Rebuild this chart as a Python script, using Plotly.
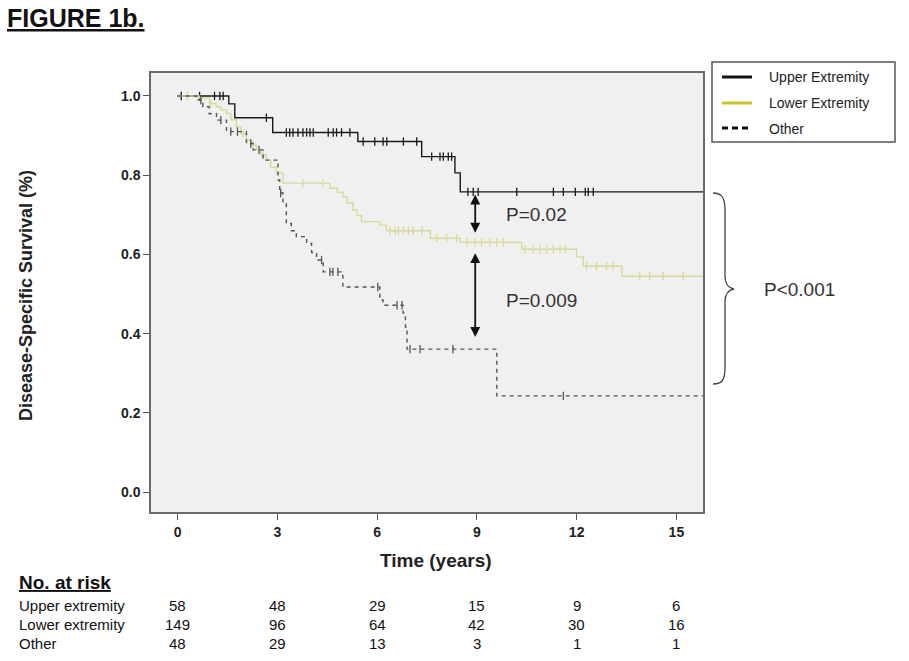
import numpy as np
import plotly.graph_objects as go

# ---------------- data ----------------
upper_t = [0, 1.54, 1.72, 2.86, 5.42, 7.34, 8.34, 8.5, 15.8]
upper_s = [1.0, 0.98, 0.945, 0.908, 0.885, 0.847, 0.806, 0.758, 0.758]
upper_cens = [0.11, 0.66, 1.11, 1.27, 1.37, 2.67, 3.27, 3.37, 3.47, 3.62, 3.77, 3.88, 3.98,
              4.08, 4.53, 4.68, 4.78, 4.93, 5.18, 5.58, 5.93, 6.18, 6.29, 6.79, 7.19, 7.64,
              7.89, 7.99, 8.14, 8.24, 8.73, 8.89, 9.04, 10.2, 11.3, 11.6, 11.96, 12.26, 12.35, 12.5]

lower_t = [0, 0.65, 0.96, 1.16, 1.3, 1.47, 1.6, 1.77, 1.9, 2.07, 2.2, 2.37, 2.5, 2.67, 2.8,
           2.97, 3.17, 4.58, 4.8, 4.97, 5.1, 5.27, 5.4, 5.53, 6.08, 6.28, 7.6, 8.5, 10.35,
           12.0, 12.2, 13.36, 15.8]
lower_s = [1.0, 0.995, 0.981, 0.973, 0.965, 0.956, 0.94, 0.922, 0.905, 0.889, 0.876, 0.864,
           0.851, 0.838, 0.82, 0.805, 0.78, 0.767, 0.757, 0.746, 0.73, 0.712, 0.698, 0.683,
           0.674, 0.66, 0.641, 0.631, 0.613, 0.594, 0.571, 0.545, 0.545]
lower_cens = [0.3, 1.0, 1.97, 2.27, 2.57, 3.77, 4.37, 6.39, 6.54, 6.64, 6.79, 6.94, 7.08, 7.35,
              7.79, 8.09, 8.39, 8.7, 8.94, 9.14, 9.39, 9.6, 9.8, 10.45, 10.7, 10.9, 11.1,
              11.3, 11.5, 11.66, 12.3, 12.6, 12.9, 13.1, 13.9, 14.2, 14.6, 15.2]

other_t = [0, 0.56, 0.76, 0.95, 1.17, 1.47, 2.07, 2.27, 2.57, 3.02, 3.07, 3.17, 3.27, 3.42,
           3.57, 3.88, 4.03, 4.18, 4.38, 4.97, 6.08, 6.18, 6.78, 6.85, 6.9, 9.6, 15.8]
other_s = [1.0, 0.99, 0.973, 0.955, 0.939, 0.91, 0.88, 0.864, 0.838, 0.788, 0.755, 0.729,
           0.678, 0.66, 0.645, 0.628, 0.605, 0.586, 0.556, 0.518, 0.485, 0.472, 0.452, 0.417,
           0.361, 0.243, 0.243]
other_cens = [0.7, 1.3, 1.6, 1.8, 2.2, 2.45, 3.1, 4.33, 4.58, 4.67, 4.82, 6.02, 6.6, 6.75,
              6.99, 7.29, 8.28, 11.6]

risk_times = [0, 3, 6, 9, 12, 15]
risk_labels = ["Upper extremity", "Lower extremity", "Other"]
risk_upper = [58, 48, 29, 15, 9, 6]
risk_lower = [149, 96, 64, 42, 30, 16]
risk_other = [48, 29, 13, 3, 1, 1]

x_ticks = [0, 3, 6, 9, 12, 15]
y_ticks = [0.0, 0.2, 0.4, 0.6, 0.8, 1.0]

# ---------------- layout geometry ----------------
W, H = 909, 661
L, R, T, B = 151, 703, 73, 512
FONT = "Liberation Sans, Arial, sans-serif"


def px(x):
    return (x - L) / (R - L)


def py(y):
    return (B - y) / (B - T)


def step_at(ts, ss, c):
    idx = np.searchsorted(np.array(ts), np.array(c), side="right") - 1
    return list(np.array(ss)[idx])


fig = go.Figure()

groups = [
    (upper_t, upper_s, upper_cens, "#1a1a1a", "solid", 1.4),
    (lower_t, lower_s, lower_cens, "#d8d89c", "solid", 1.4),
    (other_t, other_s, other_cens, "#555555", "4px,4px", 1.4),
]
for ts, ss, cs, col, dash, w in groups:
    fig.add_trace(go.Scatter(x=ts, y=ss, mode="lines", line=dict(color=col, width=w, dash=dash, shape="hv"),
                             showlegend=False, hoverinfo="skip"))
    fig.add_trace(go.Scatter(x=cs, y=step_at(ts, ss, cs), mode="markers",
                             marker=dict(symbol="line-ns", size=6, line=dict(color=col, width=1.3)),
                             showlegend=False, hoverinfo="skip"))

axis_common = dict(showgrid=False, zeroline=False, showline=True, mirror=True, linecolor="#6a6a6a",
                   linewidth=1.5, ticks="outside", ticklen=6, tickwidth=1.3, tickcolor="#555",
                   tickfont=dict(family=FONT, size=14, color="#222", weight="bold"))

fig.update_layout(
    width=W, height=H, margin=dict(l=L, r=W - R, t=T, b=H - B),
    paper_bgcolor="white", plot_bgcolor="#f0f0f0", showlegend=False,
    xaxis=dict(range=[-0.8, 15.8], tickvals=x_ticks, **axis_common),
    yaxis=dict(range=[-0.05, 1.058], tickvals=y_ticks, tickformat=".1f", **axis_common),
)

ann = []
# titles
ann.append(dict(x=px(5), y=py(18), xref="paper", yref="paper", xanchor="left", yanchor="middle",
                text="<b><u>FIGURE 1b.</u></b>", showarrow=False, font=dict(family=FONT, size=25, color="#111")))
ann.append(dict(x=px(26), y=py(296), xref="paper", yref="paper", xanchor="center", yanchor="middle",
                textangle=-90, text="<b>Disease-Specific Survival (%)</b>", showarrow=False,
                font=dict(family=FONT, size=18, color="#222")))
ann.append(dict(x=px(436), y=py(560), xref="paper", yref="paper", xanchor="center", yanchor="middle",
                text="<b>Time (years)</b>", showarrow=False, font=dict(family=FONT, size=19, color="#222")))

# arrows between curves
arrow_x = 8.95
for y0, y1 in [(0.755, 0.655), (0.607, 0.392)]:
    ann.append(dict(x=arrow_x, y=y1, ax=arrow_x, ay=y0, xref="x", yref="y", axref="x", ayref="y",
                    showarrow=True, arrowhead=2, arrowside="end+start", arrowsize=1.1, arrowwidth=1.8,
                    arrowcolor="#111", text=""))
ann.append(dict(x=9.82, y=0.700, xref="x", yref="y", xanchor="left", yanchor="middle", text="P=0.02",
                showarrow=False, font=dict(family=FONT, size=19, color="#333")))
ann.append(dict(x=9.82, y=0.485, xref="x", yref="y", xanchor="left", yanchor="middle", text="P=0.009",
                showarrow=False, font=dict(family=FONT, size=19, color="#333")))
ann.append(dict(x=px(762), y=py(289), xref="paper", yref="paper", xanchor="left", yanchor="middle",
                text="P<0.001", showarrow=False, font=dict(family=FONT, size=19, color="#333")))

# legend texts
for txt, yy in zip(["Upper Extremity", "Lower Extremity", "Other"], [77, 103, 129]):
    ann.append(dict(x=px(767), y=py(yy), xref="paper", yref="paper", xanchor="left", yanchor="middle",
                    text=txt, showarrow=False, font=dict(family=FONT, size=14, color="#222")))

# number at risk table
ann.append(dict(x=px(17), y=py(582), xref="paper", yref="paper", xanchor="left", yanchor="middle",
                text="<b><u>No. at risk</u></b>", showarrow=False, font=dict(family=FONT, size=19, color="#111")))
for lab, vals, yy in zip(risk_labels, [risk_upper, risk_lower, risk_other], [605, 624, 643]):
    ann.append(dict(x=px(17), y=py(yy), xref="paper", yref="paper", xanchor="left", yanchor="middle",
                    text=lab, showarrow=False, font=dict(family=FONT, size=15, color="#111")))
    for t, v in zip(risk_times, vals):
        ann.append(dict(x=t, y=py(yy), xref="x", yref="paper", xanchor="center", yanchor="middle",
                        text=str(v), showarrow=False, font=dict(family=FONT, size=15, color="#111")))

shapes = []
# legend box and swatches
shapes.append(dict(type="rect", xref="paper", yref="paper", x0=px(712), x1=px(895), y0=py(142), y1=py(62),
                   line=dict(color="#555", width=1.5), fillcolor="white"))
shapes.append(dict(type="line", xref="paper", yref="paper", x0=px(722), x1=px(752), y0=py(77), y1=py(77),
                   line=dict(color="#111", width=3)))
shapes.append(dict(type="line", xref="paper", yref="paper", x0=px(722), x1=px(752), y0=py(103), y1=py(103),
                   line=dict(color="#cbc12a", width=3)))
shapes.append(dict(type="line", xref="paper", yref="paper", x0=px(722), x1=px(752), y0=py(128), y1=py(128),
                   line=dict(color="#111", width=3, dash="6px,4px")))

# curly brace
pts = [("M", [(713, 193)]), ("C", [(722, 193), (725, 198), (725, 210)]), ("L", [(725, 276)]),
       ("C", [(725, 284), (728, 288), (734, 289)]), ("C", [(728, 290), (725, 294), (725, 302)]),
       ("L", [(725, 368)]), ("C", [(725, 380), (722, 384), (713, 384)])]
path = " ".join(cmd + " " + " ".join(f"{px(a):.5f},{py(b):.5f}" for a, b in p) for cmd, p in pts)
shapes.append(dict(type="path", xref="paper", yref="paper", path=path, line=dict(color="#444", width=1.3)))

fig.update_layout(annotations=ann, shapes=shapes)
fig.write_html("out.html", config={"displayModeBar": False},
               post_script="document.body.style.margin='0';")
